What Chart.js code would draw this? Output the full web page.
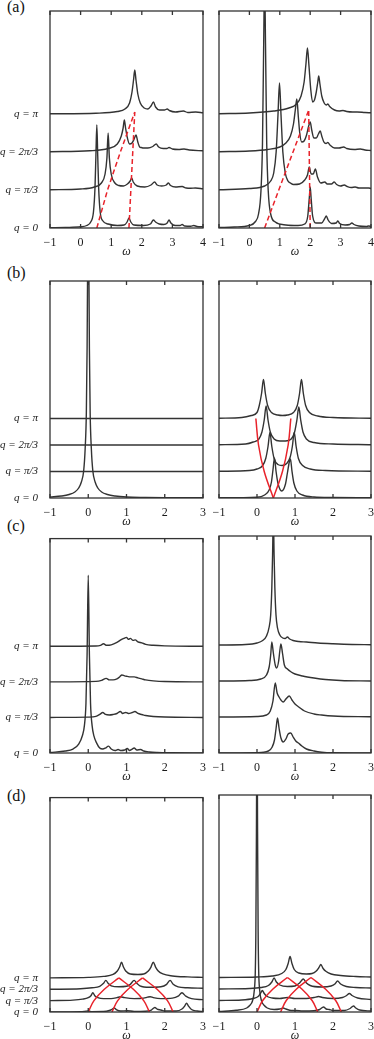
<!DOCTYPE html>
<html>
<head>
<meta charset="utf-8">
<script src="https://cdn.jsdelivr.net/npm/chart.js@4.4.0/dist/chart.umd.min.js"></script>
<style>
  html, body { margin: 0; padding: 0; background: #fff; overflow: hidden; }
  body { width: 374px; height: 1039px; position: relative; }
  canvas { position: absolute; }
  .tag { position: absolute; left: 7px; font: 16px "Liberation Serif", "DejaVu Serif", serif; color: #111; }
</style>
</head>
<body>
<div class="tag" style="top:-2px">(a)</div>
<div class="tag" style="top:264px">(b)</div>
<div class="tag" style="top:517px">(c)</div>
<div class="tag" style="top:787px">(d)</div>

<canvas id="aL" width="207" height="259" style="left:0;top:0"></canvas>
<canvas id="aR" width="166" height="259" style="left:209px;top:0"></canvas>
<canvas id="bL" width="207" height="267" style="left:0;top:262px"></canvas>
<canvas id="bR" width="166" height="267" style="left:209px;top:262px"></canvas>
<canvas id="cL" width="207" height="256" style="left:0;top:528px"></canvas>
<canvas id="cR" width="166" height="256" style="left:209px;top:528px"></canvas>
<canvas id="dL" width="207" height="256" style="left:0;top:787px"></canvas>
<canvas id="dR" width="166" height="256" style="left:209px;top:787px"></canvas>

<script>
// tick labels
const qLabels = ['q = 0', 'q = π/3', 'q = 2π/3', 'q = π'];
const omegaTicksA = [-1, 0, 1, 2, 3, 4];
const omegaTicksBCD = [-1, 0, 1, 2, 3];
const intensityMax = 217;

// vertical shift of each q spectrum (same units as intensity)
const qOffsetsA = [0, 38, 76, 114];
const qOffsetsB = [0, 26.5, 53, 79.5];
const qOffsetsC = [0, 36, 72, 108];
const qOffsetsD = [0, 11.5, 23, 34.5];

// spectra: [omega, intensity] for q = 0, pi/3, 2pi/3, pi
const specALeft = [
  [[-1,0.3],[-0.5,0.6],[0,1.2],[0.2,2.5],[0.33,6],[0.42,16],[0.47,40],[0.5,72],[0.53,103],[0.56,72],[0.59,40],[0.64,16],[0.73,7],[0.9,4],[1.2,2.5],[1.42,3],[1.52,6],[1.58,10],[1.64,6],[1.74,3],[2.05,2.5],[2.28,4],[2.38,8],[2.45,6],[2.5,5],[2.57,4],[2.72,3.5],[2.83,5],[2.89,8],[2.95,5],[3.1,2.5],[3.25,2.5],[3.32,3.5],[3.4,2],[3.6,1.8],[3.7,2.5],[3.8,1.5],[4,1.2]],
  [[-1,0.3],[0,1],[0.45,3],[0.68,7],[0.8,16],[0.86,32],[0.9,57],[0.94,32],[1.0,16],[1.12,7],[1.25,4.5],[1.4,4],[1.53,6],[1.62,9],[1.67,12],[1.72,8],[1.85,4],[2.1,3],[2.3,5],[2.42,8],[2.5,5],[2.65,4],[2.8,5],[2.87,7],[2.94,4.5],[3.1,3],[3.32,3.5],[3.45,2],[3.6,1.8],[3.75,2],[4,1.2]],
  [[-1,0.3],[0.3,1.2],[0.9,3.5],[1.2,8],[1.33,16],[1.39,24],[1.43,32],[1.47,24],[1.53,14],[1.6,8],[1.68,9],[1.75,13],[1.81,17],[1.87,10],[1.93,5],[1.98,4.5],[2.05,4],[2.2,4],[2.36,5.5],[2.47,8],[2.55,5],[2.7,3.5],[2.82,3.5],[2.89,4.5],[3.0,3],[3.2,2.5],[3.38,3],[3.55,2],[4,1.2]],
  [[-1,0.2],[0.5,0.8],[1.2,2.5],[1.45,5],[1.6,11],[1.68,22],[1.73,34],[1.77,44],[1.81,34],[1.87,20],[1.95,11],[2.08,6],[2.2,5],[2.3,8],[2.38,12],[2.45,7],[2.58,4],[2.74,4],[2.83,5],[2.9,3.5],[3.1,2],[3.36,3],[3.5,1.5],[3.76,2],[4,1.2]]
];
const specARight = [
  [[-1,0.5],[-0.5,1],[0,2.5],[0.2,6.5],[0.3,14],[0.38,37],[0.43,84],[0.47,184],[0.5,250],[0.53,184],[0.57,84],[0.62,37],[0.7,14],[0.85,6],[1.2,3],[1.6,2.5],[1.82,4],[1.92,12],[1.97,30],[2.0,41],[2.03,30],[2.08,12],[2.2,5],[2.38,5],[2.47,9],[2.53,12],[2.59,8],[2.7,4.5],[2.85,5],[2.91,7],[2.97,4.5],[3.15,3],[3.3,3.5],[3.37,5],[3.44,3.5],[3.6,2],[3.85,1.5],[3.92,2],[4,1.5]],
  [[-1,0.3],[0,1.5],[0.5,4],[0.7,9],[0.8,17],[0.88,38],[0.94,75],[0.99,107],[1.04,75],[1.1,38],[1.18,17],[1.27,9],[1.35,7],[1.45,5.5],[1.65,6],[1.82,10],[1.91,15],[1.97,23],[2.03,16],[2.1,16],[2.17,21],[2.24,13],[2.35,7],[2.48,8],[2.56,6],[2.7,6],[2.79,8],[2.87,5.5],[3.0,4],[3.12,5],[3.22,3.5],[3.35,2.5],[3.48,3],[3.6,2],[3.92,2],[4,1.5]],
  [[-1,0.3],[0,1],[0.6,2.5],[1.0,5],[1.2,9],[1.35,16],[1.45,28],[1.51,42],[1.56,53],[1.61,35],[1.66,18],[1.72,10],[1.8,11],[1.88,17],[1.95,26],[2.0,30],[2.05,22],[2.12,14],[2.2,14],[2.27,18],[2.33,21],[2.38,16],[2.45,10],[2.52,8.5],[2.58,9.5],[2.65,7],[2.8,4],[2.95,4],[3.1,5],[3.2,3.5],[3.45,2.5],[3.65,3],[3.8,2],[4,1.5]],
  [[-1,0.3],[0,1],[0.8,3],[1.3,6],[1.55,10],[1.7,18],[1.8,32],[1.86,50],[1.91,66],[1.96,48],[2.02,24],[2.08,12],[2.14,14],[2.2,22],[2.25,32],[2.28,38],[2.32,30],[2.38,18],[2.46,11],[2.53,9],[2.58,10],[2.64,7.5],[2.8,4],[2.95,3],[3.08,3.5],[3.2,2.5],[3.4,2],[3.54,2],[3.8,1.5],[4,1.2]]
];

const specBLeft = [
  [[-1,1],[-0.7,2],[-0.5,3.5],[-0.35,6],[-0.25,10],[-0.18,16],[-0.12,27],[-0.08,50],[-0.05,85],[-0.03,150],[-0.02,210],[0,320],[0.02,210],[0.03,150],[0.05,85],[0.08,50],[0.12,27],[0.18,16],[0.25,10],[0.35,6],[0.5,3.5],[0.7,2],[1,1],[1.5,0.6],[2,0.4],[3,0.2]],
  [[-1,0],[3,0]],
  [[-1,0],[3,0]],
  [[-1,0],[3,0]]
];
const specBRight = [
  [[-1,0.2],[0,0.8],[0.2,3],[0.32,8],[0.38,16],[0.42,28],[0.46,40],[0.5,27],[0.55,15],[0.65,7],[0.75,14],[0.8,25],[0.85,36],[0.88,39],[0.92,27],[0.97,15],[1.05,7],[1.2,3],[1.5,1],[2,0.5],[3,0.2]],
  [[-1,0.2],[-0.2,1],[0,2.5],[0.15,6],[0.23,13],[0.29,25],[0.34,39],[0.39,25],[0.45,13],[0.55,7],[0.66,6],[0.78,8],[0.87,14],[0.93,25],[0.98,39],[1.03,25],[1.09,13],[1.2,6],[1.4,2.5],[1.8,1],[3,0.3]],
  [[-1,0.3],[-0.3,1],[-0.1,3],[0.05,6],[0.13,13],[0.19,25],[0.24,39],[0.29,25],[0.35,13],[0.45,6],[0.6,4],[0.75,4],[0.9,6],[0.99,13],[1.05,25],[1.1,38],[1.15,25],[1.21,13],[1.3,6],[1.5,2.5],[2,1],[3,0.3]],
  [[-1,0.3],[-0.4,1],[-0.15,3],[0,6],[0.06,13],[0.12,25],[0.17,39],[0.22,25],[0.28,13],[0.38,6],[0.55,3.5],[0.67,3],[0.8,3.5],[0.96,6],[1.06,13],[1.12,25],[1.17,39],[1.22,25],[1.28,13],[1.38,6],[1.6,2.5],[2,1],[3,0.3]]
];

const specCLeft = [
  [[-1,0.5],[-0.6,2],[-0.4,4],[-0.25,9],[-0.15,18],[-0.1,28],[-0.06,50],[-0.03,100],[0,180],[0.03,100],[0.06,50],[0.1,28],[0.15,17],[0.22,10],[0.3,5],[0.38,4],[0.45,5],[0.53,7],[0.6,4],[0.7,2.5],[0.78,3.5],[0.86,2.5],[0.95,3],[1.02,4.5],[1.08,2.5],[1.15,4],[1.2,5],[1.27,3],[1.37,3.5],[1.45,2],[1.6,1],[1.8,0.5],[2.2,0.2],[3,0]],
  [[-1,0],[0,0.3],[0.2,1],[0.3,3],[0.38,5],[0.45,3],[0.55,2.5],[0.65,3],[0.75,4],[0.84,6],[0.9,4],[0.98,5],[1.05,4],[1.15,5],[1.22,6],[1.3,4],[1.4,3],[1.5,2],[1.7,1],[2,0.4],[3,0]],
  [[-1,0],[0.2,0.5],[0.35,1.5],[0.47,3.5],[0.55,2],[0.65,2],[0.75,3],[0.82,5],[0.88,7],[0.95,6],[1.02,5.5],[1.1,5],[1.2,5],[1.3,4],[1.4,3],[1.5,2],[1.7,1],[2,0.3],[3,0]],
  [[-1,0],[0.2,0.3],[0.32,1],[0.4,2.5],[0.48,1],[0.6,1.5],[0.75,4],[0.85,6.5],[0.93,8],[1.0,9],[1.05,7],[1.1,8],[1.17,6],[1.23,6.5],[1.3,4.5],[1.4,3.5],[1.5,2],[1.7,1],[2,0.4],[3,0]]
];
const specCRight = [
  [[-1,0],[0,0.3],[0.3,2],[0.4,6],[0.46,13],[0.5,24],[0.54,35],[0.58,25],[0.63,15],[0.69,11],[0.76,14],[0.82,19],[0.89,20],[0.95,16],[1.02,12],[1.09,10],[1.18,7],[1.3,4],[1.5,2],[1.7,0.8],[2,0.2],[3,0]],
  [[-1,0],[0,0.5],[0.25,2],[0.35,6],[0.42,16],[0.48,34],[0.53,24],[0.58,20],[0.63,17],[0.69,15],[0.76,18],[0.85,21],[0.92,17],[1.0,13],[1.1,10],[1.25,6],[1.5,3],[1.7,2],[2,1],[3,0.2]],
  [[-1,0],[-0.2,0.5],[0.1,2],[0.25,6],[0.32,14],[0.36,26],[0.39,39],[0.43,28],[0.48,16],[0.52,13],[0.57,20],[0.6,30],[0.63,37],[0.67,28],[0.72,16],[0.8,12],[0.9,9],[1.0,7],[1.2,5],[1.5,3],[1.8,1.5],[2.2,0.5],[3,0]],
  [[-1,0],[-0.3,0.5],[0,2],[0.15,4.5],[0.25,9],[0.32,18],[0.36,30],[0.39,57],[0.41,90],[0.43,130],[0.45,90],[0.47,57],[0.5,30],[0.54,17],[0.6,10],[0.68,7],[0.74,6.5],[0.8,8],[0.86,6],[0.95,4.5],[1.1,3.5],[1.3,3],[1.6,2],[2,1.2],[2.5,0.5],[3,0.3]]
];

const specDLeft = [
  [[-1,0],[-0.2,0.3],[0,1],[0.1,0.4],[0.4,0.5],[0.55,1.5],[0.63,3],[0.68,4],[0.73,2.5],[0.85,1],[1.02,1.3],[1.2,0.6],[1.5,0.8],[1.65,2],[1.74,4.5],[1.8,3],[1.9,2],[2.0,1],[2.3,1],[2.45,3],[2.52,6],[2.57,9],[2.62,6],[2.7,2.5],[2.85,1],[3,0.5]],
  [[-1,0],[-0.4,0.5],[-0.15,1.5],[0,3],[0.07,5],[0.12,8],[0.17,5],[0.25,3],[0.4,2],[0.6,2],[0.75,3],[0.84,4],[0.95,3],[1.2,2],[1.45,2.5],[1.55,3.5],[1.62,4],[1.7,3],[1.9,2],[2.2,2.5],[2.35,4.5],[2.45,8],[2.55,4.5],[2.7,2],[3,1]],
  [[-1,0],[-0.2,0.5],[0.1,1.5],[0.3,3],[0.4,6],[0.46,9],[0.52,6],[0.6,3.5],[0.8,2.5],[1.0,3],[1.1,5],[1.2,9],[1.27,6],[1.35,3.5],[1.6,2],[1.9,2.5],[2.05,5],[2.14,9],[2.22,5],[2.35,2.5],[2.6,1.5],[3,1]],
  [[-1,0],[0,0.5],[0.4,1.5],[0.65,3.5],[0.76,7],[0.82,11],[0.87,16],[0.92,11],[0.98,7],[1.1,4],[1.3,3.5],[1.45,4],[1.57,7],[1.64,11],[1.7,16],[1.76,11],[1.83,7],[1.95,4],[2.2,2],[2.6,1],[3,0.5]]
];
const specDRight = [
  [[-1,0.5],[-0.55,1.7],[-0.27,4],[-0.18,7],[-0.12,11],[-0.07,22],[-0.045,40],[-0.03,80],[-0.015,180],[0,300],[0.015,180],[0.03,80],[0.045,40],[0.07,22],[0.12,11],[0.18,7],[0.27,4],[0.45,2.5],[0.6,3],[0.69,4],[0.76,3],[0.9,1.5],[1.02,1.5],[1.2,1],[1.5,1.2],[1.65,2.5],[1.75,5],[1.82,3],[1.9,2.5],[2.0,1.5],[2.3,1.5],[2.45,3.5],[2.54,6],[2.6,4],[2.7,2],[3,1]],
  [[-1,0],[-0.4,0.5],[-0.1,2],[0.03,4],[0.09,7],[0.14,10],[0.19,7],[0.27,4],[0.4,2.5],[0.6,2],[0.8,3],[1.0,2],[1.3,2],[1.5,3],[1.62,4],[1.72,3],[2.0,2],[2.25,3],[2.36,5],[2.43,7],[2.5,5],[2.65,2.5],[3,1]],
  [[-1,0],[-0.2,0.5],[0.1,1.5],[0.3,3.5],[0.39,7],[0.45,11],[0.51,7],[0.6,4],[0.8,2.5],[1.0,3],[1.12,6],[1.22,10],[1.3,6],[1.4,3.5],[1.7,2],[1.95,3],[2.05,5],[2.12,8],[2.2,5],[2.35,2.5],[2.6,1.5],[3,1]],
  [[-1,0],[0,0.5],[0.4,1.5],[0.65,4],[0.76,8],[0.82,14],[0.87,21],[0.92,14],[0.98,8],[1.1,4.5],[1.3,3.5],[1.45,4],[1.56,6.5],[1.63,10],[1.68,13],[1.74,9],[1.82,6],[1.95,3.5],[2.2,2],[2.6,1],[3,0.5]]
];

// red guides: [omega, q step] (q step 1 = one spectrum offset)
const guideALeft = [
  [[0.53,0],[0.88,1],[1.3,2],[1.77,3.05]],
  [[1.58,0],[1.77,3.05]]
];
const guideARight = [
  [[0.5,0],[1.95,3.1]],
  [[2.0,0],[1.95,3.1]]
];
const guideBRight = [
  [[0.43,0],[0.19,1],[0.04,2],[-0.03,3]],
  [[0.43,0],[0.67,1],[0.82,2],[0.89,3]]
];
const guideD = [
  [[0,0],[0.15,1],[0.42,2],[0.8,3]],
  [[0.8,3],[1.18,2],[1.45,1],[1.6,0]],
  [[0.62,0],[0.77,1],[1.04,2],[1.42,3]],
  [[1.42,3],[1.8,2],[2.07,1],[2.22,0]]
];

Chart.defaults.font.family = '"Liberation Serif", "DejaVu Serif", serif';
Chart.defaults.font.size = 12;
Chart.defaults.color = '#1a1a1a';

const INK = '#333';
const RED = '#e8232b';

// box around the plot + inward ticks on top and bottom
const framePlugin = {
  id: 'frame',
  afterDatasetsDraw(chart) {
    const { ctx, chartArea: a } = chart;
    const x = chart.scales.x;
    ctx.save();
    ctx.strokeStyle = '#333';
    ctx.lineWidth = 1.3;
    ctx.strokeRect(a.left, a.top, a.right - a.left, a.bottom - a.top);
    x.ticks.forEach(t => {
      const px = x.getPixelForValue(t.value);
      ctx.beginPath();
      ctx.moveTo(px, a.top);
      ctx.lineTo(px, a.top + 4);
      ctx.moveTo(px, a.bottom);
      ctx.lineTo(px, a.bottom - 4);
      ctx.stroke();
    });
    ctx.restore();
  }
};

const Panels = {
  buildDatasets(spectra, offsets, guides, dashed) {
    const step = offsets[1];

    const guideSets = guides.map(guide => ({
      data: guide.map(([w, s]) => ({ x: w, y: s * step })),
      borderColor: RED,
      borderWidth: 1.5,
      borderDash: dashed ? [5, 3] : [],
      tension: dashed ? 0 : 0.4,
      pointRadius: 0
    }));

    const specSets = spectra.map((curve, i) => ({
      data: curve.map(([w, v]) => ({ x: w, y: v + offsets[i] })),
      borderColor: INK,
      borderWidth: 1.4,
      cubicInterpolationMode: 'monotone',
      pointRadius: 0
    }));

    return [...guideSets, ...specSets];
  },

  options(xTicks, offsets, withLabels, topPad, axisHeight) {
    return {
      responsive: false,
      animation: false,
      events: [],
      layout: { padding: { top: topPad, right: 4, left: 0, bottom: 0 } },
      plugins: { legend: { display: false }, tooltip: { enabled: false } },
      scales: {
        x: {
          type: 'linear',
          min: xTicks[0],
          max: xTicks[xTicks.length - 1],
          afterBuildTicks: s => { s.ticks = xTicks.map(v => ({ value: v })); },
          afterFit: s => { s.height = axisHeight; },
          grid: { display: false },
          border: { display: false },
          ticks: {
            padding: 0,
            maxRotation: 0,
            autoSkip: false,
            callback: v => v < 0 ? '\u2212' + (-v) : String(v)
          },
          title: { display: true, text: 'ω', font: { style: 'italic', size: 12 }, padding: 0 }
        },
        y: {
          min: 0,
          max: intensityMax,
          afterBuildTicks: s => { s.ticks = offsets.map(v => ({ value: v })); },
          afterFit: s => { s.width = withLabels ? 50 : 10; },
          grid: { display: false },
          border: { display: false },
          ticks: {
            display: withLabels,
            padding: 4,
            font: { style: 'italic', size: 11 },
            callback: (v, i) => qLabels[i]
          }
        }
      }
    };
  },

  render(id, spectra, offsets, guides, dashed, xTicks, withLabels, topPad, axisHeight) {
    new Chart(document.getElementById(id), {
      type: 'line',
      data: { datasets: Panels.buildDatasets(spectra, offsets, guides, dashed) },
      options: Panels.options(xTicks, offsets, withLabels, topPad, axisHeight),
      plugins: [framePlugin]
    });
  }
};

Panels.render('aL', specALeft, qOffsetsA, guideALeft, true, omegaTicksA, true, 11, 31);
Panels.render('aR', specARight, qOffsetsA, guideARight, true, omegaTicksA, false, 11, 31);
Panels.render('bL', specBLeft, qOffsetsB, [], false, omegaTicksBCD, true, 19, 31);
Panels.render('bR', specBRight, qOffsetsB, guideBRight, false, omegaTicksBCD, false, 19, 31);
Panels.render('cL', specCLeft, qOffsetsC, [], false, omegaTicksBCD, true, 8, 31);
Panels.render('cR', specCRight, qOffsetsC, [], false, omegaTicksBCD, false, 8, 31);
Panels.render('dL', specDLeft, qOffsetsD, guideD, false, omegaTicksBCD, true, 8, 31);
Panels.render('dR', specDRight, qOffsetsD, guideD, false, omegaTicksBCD, false, 8, 31);
</script>
</body>
</html>
